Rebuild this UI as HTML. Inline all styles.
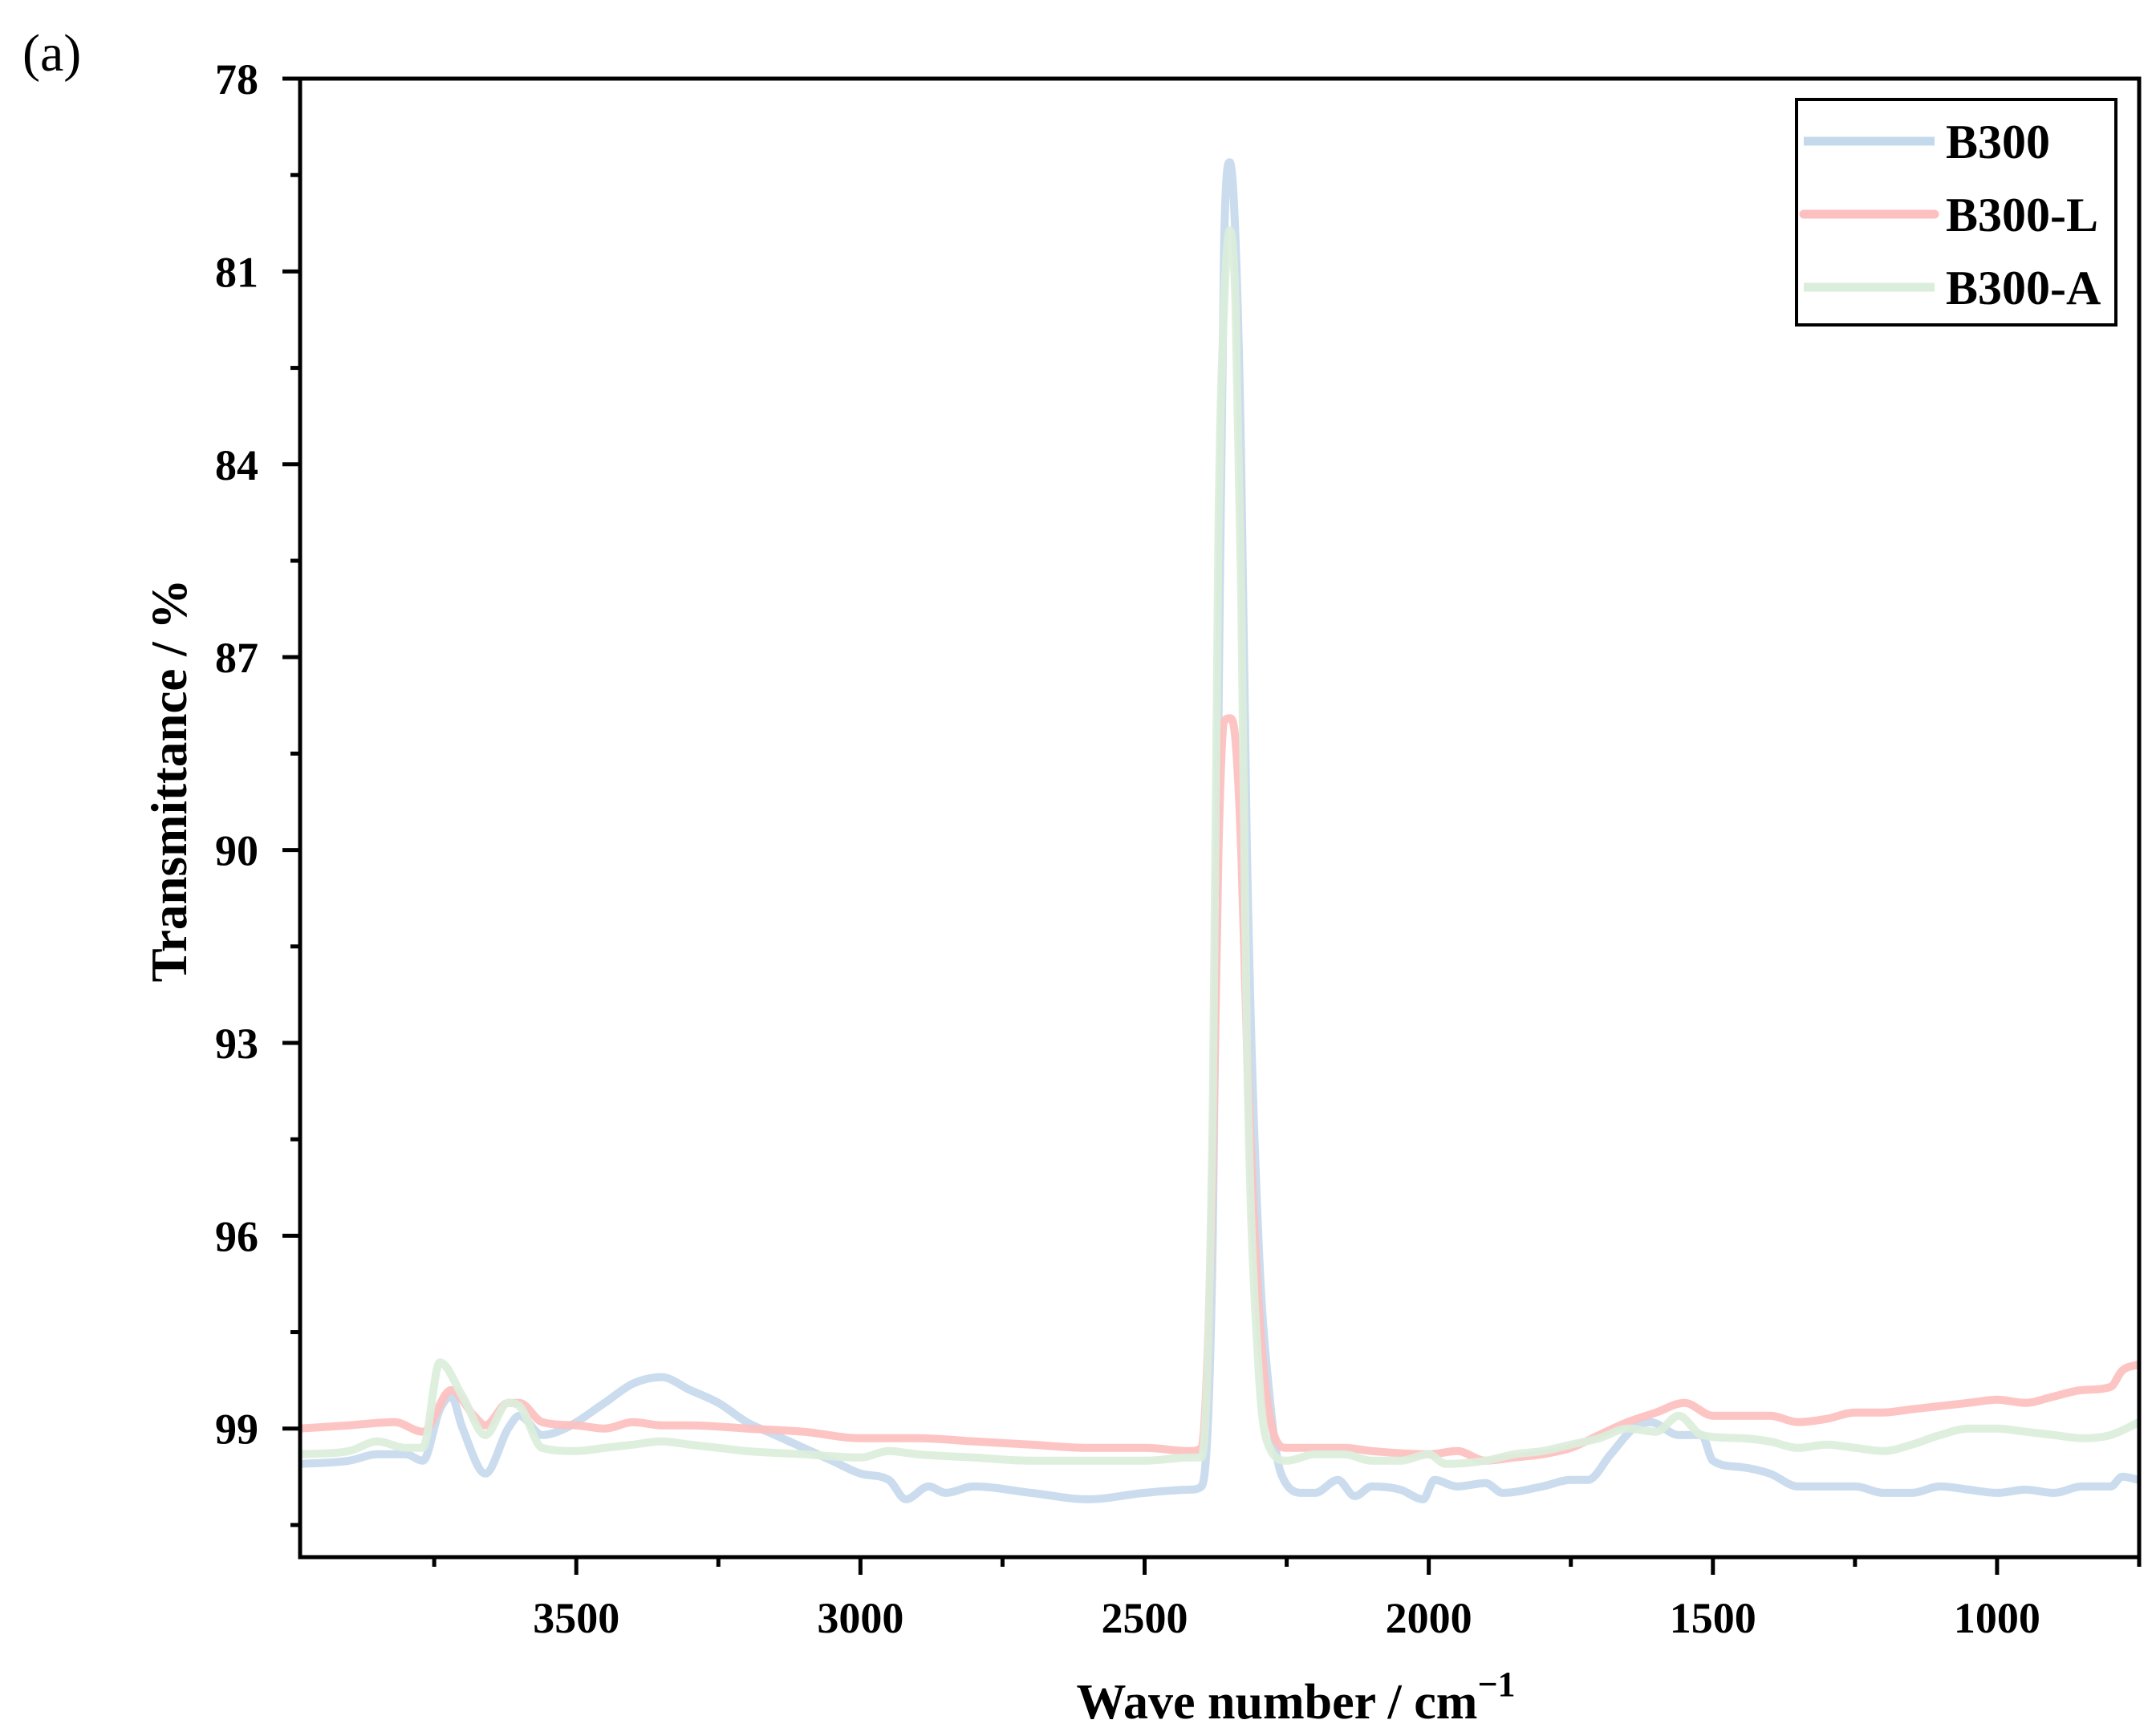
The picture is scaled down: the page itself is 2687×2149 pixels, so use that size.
<!DOCTYPE html>
<html><head><meta charset="utf-8"><style>
html,body{margin:0;padding:0;background:#fff;}
svg{display:block;font-family:"Liberation Serif",serif;}
</style></head><body>
<svg id="chart" width="2687" height="2149" viewBox="0 0 2687 2149" xmlns="http://www.w3.org/2000/svg">
<text x="28" y="88" font-size="66">(a)</text>
<g id="series"></g>
<g id="axes"></g>
<text transform="translate(232,973) rotate(-90)" text-anchor="middle" font-size="63" font-weight="bold">Transmittance / %</text>
<text x="1615" y="2142" text-anchor="middle" font-size="62" font-weight="bold">Wave number / cm<tspan dy="-28" font-size="44">−1</tspan></text>
<g>
<rect x="2239" y="124" width="398" height="281" fill="#fff" stroke="#000" stroke-width="4"/>
<line x1="2248" y1="176" x2="2411" y2="176" stroke="#c5d9ec" stroke-width="11"/>
<text x="2425" y="197" font-size="60" font-weight="bold">B300</text>
<line x1="2248" y1="267" x2="2411" y2="267" stroke="#fdbfbf" stroke-width="11" stroke-linecap="round"/>
<text x="2425" y="288" font-size="60" font-weight="bold">B300-L</text>
<line x1="2248" y1="358" x2="2411" y2="358" stroke="#dbeedb" stroke-width="11"/>
<text x="2425" y="379" font-size="60" font-weight="bold">B300-A</text>
</g>
</svg>
<script>
const wnB=[3986,3900,3850,3800,3770,3740,3720,3700,3660,3620,3600,3560,3520,3450,3400,3350,3300,3250,3200,3150,3100,3050,3000,2950,2920,2880,2850,2800,2700,2600,2500,2420,2400,2380,2370,2360,2350,2340,2330,2320,2300,2280,2260,2220,2200,2160,2130,2100,2050,2010,1990,1950,1900,1870,1800,1750,1720,1680,1640,1610,1560,1520,1500,1450,1400,1350,1300,1250,1200,1150,1100,1050,1000,950,900,850,800,780,750];
const b300=[99.55,99.5,99.4,99.4,99.5,98.7,98.5,99.0,99.7,99.0,98.8,99.1,99.0,98.6,98.3,98.2,98.4,98.6,98.9,99.1,99.3,99.5,99.7,99.8,100.1,99.9,100.0,99.9,100.0,100.1,100.0,99.95,99.9,96,88,80.5,79.3,80.5,84,90,96,98.5,99.7,100.0,100.0,99.8,100.05,99.9,99.95,100.1,99.8,99.9,99.85,100.0,99.9,99.8,99.8,99.4,99.0,98.9,99.1,99.1,99.5,99.6,99.7,99.9,99.9,99.9,100.0,100.0,99.9,99.95,100.0,99.95,100.0,99.9,99.9,99.75,99.8];
const wnL=[3986,3900,3820,3770,3720,3680,3660,3620,3600,3560,3500,3450,3400,3350,3300,3200,3100,3000,2900,2800,2700,2600,2500,2420,2400,2380,2370,2360,2350,2340,2330,2320,2300,2280,2250,2200,2150,2100,2000,1950,1900,1850,1800,1750,1700,1650,1600,1550,1500,1450,1400,1350,1300,1250,1200,1150,1100,1050,1000,950,900,850,800,780,750];
const b300L=[99.0,98.95,98.9,99.05,98.4,98.8,98.95,98.6,98.6,98.9,98.95,99.0,98.9,98.95,98.95,99.0,99.05,99.15,99.15,99.2,99.25,99.3,99.3,99.35,99.3,95,90,88.0,87.95,88.3,90,93,97,98.8,99.3,99.3,99.3,99.35,99.4,99.35,99.5,99.45,99.4,99.3,99.1,98.9,98.75,98.6,98.8,98.8,98.8,98.9,98.85,98.75,98.75,98.7,98.65,98.6,98.55,98.6,98.5,98.4,98.35,98.1,98.0];
const wnA=[3986,3900,3850,3800,3770,3740,3700,3660,3620,3600,3560,3500,3450,3400,3350,3300,3250,3200,3100,3000,2950,2900,2800,2700,2600,2500,2420,2400,2380,2370,2360,2350,2340,2330,2320,2300,2280,2250,2200,2150,2100,2050,2000,1970,1900,1850,1800,1750,1700,1650,1600,1560,1520,1450,1400,1350,1300,1250,1200,1150,1100,1050,1000,950,900,850,800,750];
const b300A=[99.4,99.35,99.2,99.3,99.3,97.97,98.5,99.1,98.6,98.65,99.3,99.35,99.3,99.25,99.2,99.25,99.3,99.35,99.4,99.45,99.35,99.4,99.45,99.5,99.5,99.5,99.45,99.45,94,85,81.5,80.36,81.5,86,93,98,99.3,99.5,99.4,99.4,99.5,99.5,99.4,99.55,99.5,99.4,99.35,99.25,99.15,99.0,99.05,98.8,99.1,99.15,99.2,99.3,99.25,99.3,99.35,99.25,99.1,99.0,99.0,99.05,99.1,99.15,99.1,98.9];
const xTicks=[3500,3000,2500,2000,1500,1000];
const yTicks=[78,81,84,87,90,93,96,99];

const L=374,R=2666,T=98,B=1941,XMAX=3986,XMIN=750,YMIN=78,YMAX=101;
const sx=v=>L+(XMAX-v)/(XMAX-XMIN)*(R-L);
const sy=v=>T+(v-YMIN)/(YMAX-YMIN)*(B-T);
const NS="http://www.w3.org/2000/svg";
function mk(tag,attrs,parent){const e=document.createElementNS(NS,tag);for(const k in attrs)e.setAttribute(k,attrs[k]);parent.appendChild(e);return e;}
function pathD(xs,ys){
  const X=xs.map(sx),Y=ys.map(sy),n=X.length;
  const d=[],m=new Array(n);
  for(let i=0;i<n-1;i++)d.push((Y[i+1]-Y[i])/(X[i+1]-X[i]));
  m[0]=d[0];m[n-1]=d[n-2];
  for(let i=1;i<n-1;i++){m[i]=(d[i-1]*d[i]<=0)?0:(d[i-1]+d[i])/2;}
  for(let i=0;i<n-1;i++){if(d[i]===0){m[i]=0;m[i+1]=0;continue;}
    const a=m[i]/d[i],b=m[i+1]/d[i],s=a*a+b*b;if(s>9){const t=3/Math.sqrt(s);m[i]=t*a*d[i];m[i+1]=t*b*d[i];}}
  let p="M"+X[0].toFixed(1)+","+Y[0].toFixed(1);
  for(let i=0;i<n-1;i++){const h=(X[i+1]-X[i])/3;
    p+=" C"+(X[i]+h).toFixed(1)+","+(Y[i]+m[i]*h).toFixed(1)+" "+(X[i+1]-h).toFixed(1)+","+(Y[i+1]-m[i+1]*h).toFixed(1)+" "+X[i+1].toFixed(1)+","+Y[i+1].toFixed(1);}
  return p;}
const sg=document.getElementById("series");
const defs=[[wnB,b300,"#c5d9ec","series-b300"],[wnL,b300L,"#fdbfbf","series-b300-l"],[wnA,b300A,"#dbeedb","series-b300-a"]];
defs.forEach(s=>{const e=mk("path",{d:pathD(s[0],s[1]),fill:"none",stroke:s[2],"stroke-width":10,"stroke-linejoin":"round","stroke-opacity":0.92},sg);

});
const ag=document.getElementById("axes");
const fr=mk("rect",{x:L,y:T,width:R-L,height:B-T,fill:"none",stroke:"#000","stroke-width":5},ag);


yTicks.forEach(v=>{const y=sy(v);
const t=mk("line",{x1:L-22,x2:L,y1:y,y2:y,stroke:"#000","stroke-width":5},ag);


const m=mk("line",{x1:L-12,x2:L,y1:sy(v+1.5),y2:sy(v+1.5),stroke:"#000","stroke-width":5},ag);


const lb=mk("text",{x:L-52,y:y+19,"text-anchor":"end","font-size":54,"font-weight":"bold"},ag);lb.textContent=v;

});
xTicks.forEach(v=>{const x=sx(v);
const t=mk("line",{x1:x,x2:x,y1:B,y2:B+22,stroke:"#000","stroke-width":5},ag);


const m=mk("line",{x1:sx(v+250),x2:sx(v+250),y1:B,y2:B+12,stroke:"#000","stroke-width":5},ag);


const lb=mk("text",{x:x,y:B+94,"text-anchor":"middle","font-size":54,"font-weight":"bold"},ag);lb.textContent=v;

});
const m2=mk("line",{x1:sx(750),x2:sx(750),y1:B,y2:B+12,stroke:"#000","stroke-width":5},ag);


</script>
</body></html>
